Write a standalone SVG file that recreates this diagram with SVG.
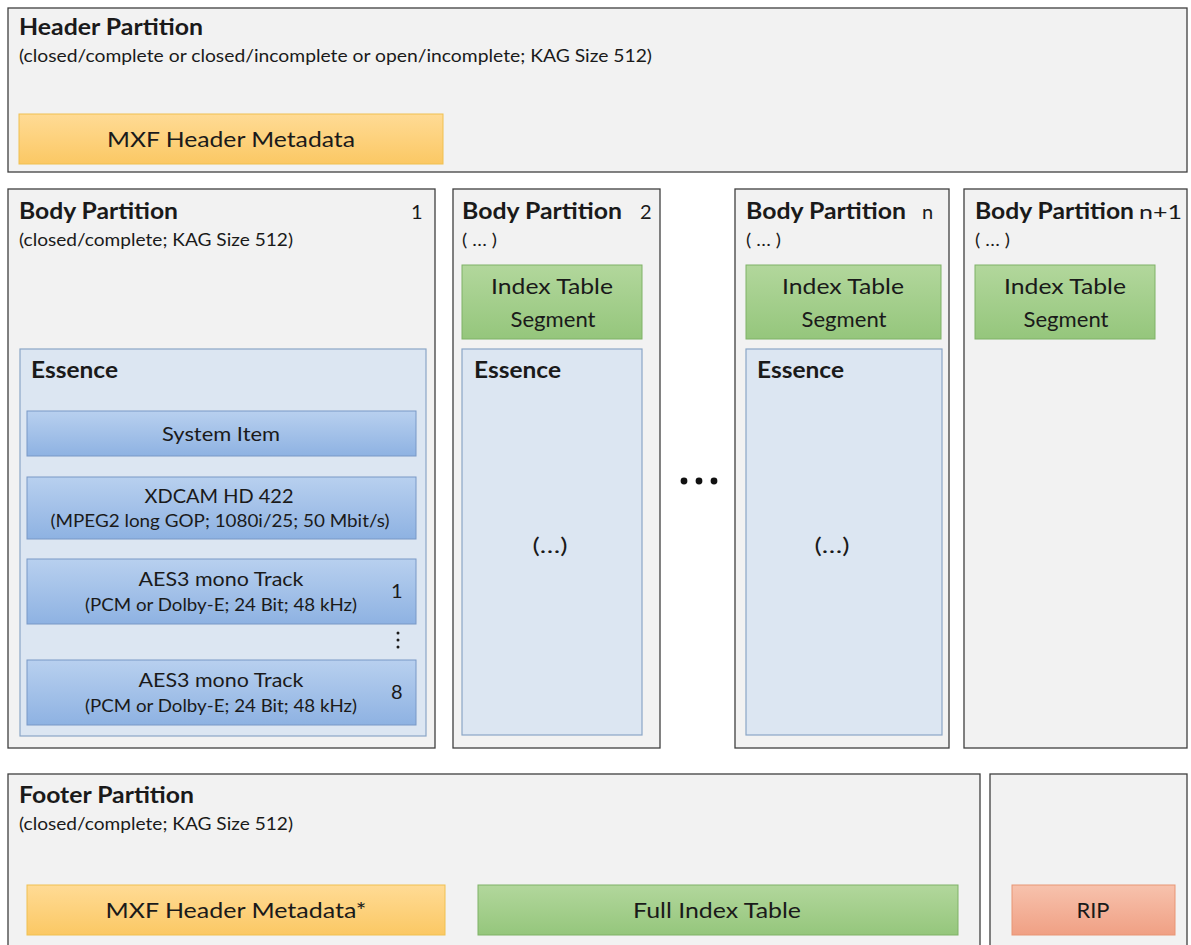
<svg xmlns="http://www.w3.org/2000/svg" width="1191" height="945" viewBox="0 0 1191 945">
<defs>
<linearGradient id="gOrange" x1="0" y1="0" x2="0" y2="1"><stop offset="0" stop-color="#ffdb95"/><stop offset="1" stop-color="#fbc864"/></linearGradient>
<linearGradient id="gGreen" x1="0" y1="0" x2="0" y2="1"><stop offset="0" stop-color="#b2d79c"/><stop offset="1" stop-color="#95c67c"/></linearGradient>
<linearGradient id="gBlue" x1="0" y1="0" x2="0" y2="1"><stop offset="0" stop-color="#b8d0ef"/><stop offset="1" stop-color="#8eb2e2"/></linearGradient>
<linearGradient id="gRed" x1="0" y1="0" x2="0" y2="1"><stop offset="0" stop-color="#f7c2ad"/><stop offset="1" stop-color="#f0a084"/></linearGradient>
</defs>
<style>
text{font-family:Lato,"Liberation Sans",Arial,sans-serif;fill:#1a1a1a}
.part{fill:#f2f2f2;stroke:#3f3f3f;stroke-width:1.3}
.ess{fill:#dce6f2;stroke:#8aa6c6;stroke-width:1.2}
.orange{fill:url(#gOrange);stroke:#f0c050;stroke-width:1}
.green{fill:url(#gGreen);stroke:#7fb266;stroke-width:1}
.blue{fill:url(#gBlue);stroke:#7898c6;stroke-width:1}
.red{fill:url(#gRed);stroke:#e89574;stroke-width:1}
.title{font-weight:bold;font-size:22px}
.sub{font-size:17px}
.lbl{font-size:22px;text-anchor:middle}
.sm{font-size:19px;text-anchor:middle}
.xs{font-size:17px;text-anchor:middle}
.num{font-size:20px}
</style>
<rect width="1191" height="945" fill="#ffffff"/>

<g id="header-partition">
<rect class="part" x="8" y="8" width="1179" height="164"/>
<text class="title" x="19" y="35" textLength="184" lengthAdjust="spacingAndGlyphs">Header Partition</text>
<text class="sub" x="19" y="62" textLength="633" lengthAdjust="spacingAndGlyphs">(closed/complete or closed/incomplete or open/incomplete; KAG Size 512)</text>
<g id="header-metadata">
<rect class="orange" x="19" y="114" width="424" height="50"/>
<text class="lbl" x="231" y="147" textLength="248" lengthAdjust="spacingAndGlyphs">MXF Header Metadata</text>
</g>
</g>

<g id="body-partition-1">
<rect class="part" x="8" y="189" width="427" height="559"/>
<text class="title" x="19" y="219" textLength="159" lengthAdjust="spacingAndGlyphs">Body Partition</text>
<text class="num" x="411" y="219">1</text>
<text class="sub" x="19" y="246" textLength="274" lengthAdjust="spacingAndGlyphs">(closed/complete; KAG Size 512)</text>
<g id="essence-1">
<rect class="ess" x="20" y="349" width="406" height="387"/>
<text class="title" x="31" y="378" textLength="87" lengthAdjust="spacingAndGlyphs">Essence</text>
<g id="system-item">
<rect class="blue" x="27" y="411" width="389" height="45"/>
<text class="sm" x="221" y="441" textLength="118" lengthAdjust="spacingAndGlyphs">System Item</text>
</g>
<g id="xdcam">
<rect class="blue" x="27" y="477" width="389" height="62"/>
<text class="sm" x="219" y="503" textLength="149" lengthAdjust="spacingAndGlyphs">XDCAM HD 422</text>
<text class="xs" x="220" y="527" textLength="339" lengthAdjust="spacingAndGlyphs">(MPEG2 long GOP; 1080i/25; 50 Mbit/s)</text>
</g>
<g id="aes-1">
<rect class="blue" x="27" y="559" width="389" height="65"/>
<text class="sm" x="221" y="586" textLength="165" lengthAdjust="spacingAndGlyphs">AES3 mono Track</text>
<text class="xs" x="221" y="611" textLength="272" lengthAdjust="spacingAndGlyphs">(PCM or Dolby-E; 24 Bit; 48 kHz)</text>
<text class="num" x="391" y="598">1</text>
</g>
<g id="aes-dots" fill="#1a1a1a">
<circle cx="398" cy="633" r="1.5"/><circle cx="398" cy="640" r="1.5"/><circle cx="398" cy="647" r="1.5"/>
</g>
<g id="aes-8">
<rect class="blue" x="27" y="660" width="389" height="65"/>
<text class="sm" x="221" y="687" textLength="165" lengthAdjust="spacingAndGlyphs">AES3 mono Track</text>
<text class="xs" x="221" y="712" textLength="272" lengthAdjust="spacingAndGlyphs">(PCM or Dolby-E; 24 Bit; 48 kHz)</text>
<text class="num" x="391" y="699">8</text>
</g>
</g>
</g>

<g id="body-partition-2">
<rect class="part" x="453" y="189" width="207" height="559"/>
<text class="title" x="462" y="219" textLength="160" lengthAdjust="spacingAndGlyphs">Body Partition</text>
<text class="num" x="640" y="219">2</text>
<text class="sub" x="462" y="246" textLength="35" lengthAdjust="spacingAndGlyphs">( … )</text>
<g id="its-2">
<rect class="green" x="462" y="265" width="180" height="74"/>
<text class="lbl" x="552" y="294" textLength="122" lengthAdjust="spacingAndGlyphs">Index Table</text>
<text class="lbl" x="553" y="327" textLength="85" lengthAdjust="spacingAndGlyphs">Segment</text>
</g>
<g id="essence-2">
<rect class="ess" x="462" y="349" width="180" height="386"/>
<text class="title" x="474" y="378" textLength="87" lengthAdjust="spacingAndGlyphs">Essence</text>
<text class="lbl" x="550" y="553" textLength="35" lengthAdjust="spacingAndGlyphs">(…)</text>
</g>
</g>

<g id="ellipsis" fill="#111111">
<circle cx="684" cy="481" r="3.4"/><circle cx="699" cy="481" r="3.4"/><circle cx="714" cy="481" r="3.4"/>
</g>

<g id="body-partition-n">
<rect class="part" x="735" y="189" width="214" height="559"/>
<text class="title" x="746" y="219" textLength="160" lengthAdjust="spacingAndGlyphs">Body Partition</text>
<text class="num" x="922" y="219">n</text>
<text class="sub" x="746" y="246" textLength="35" lengthAdjust="spacingAndGlyphs">( … )</text>
<g id="its-n">
<rect class="green" x="746" y="265" width="195" height="74"/>
<text class="lbl" x="843" y="294" textLength="122" lengthAdjust="spacingAndGlyphs">Index Table</text>
<text class="lbl" x="844" y="327" textLength="85" lengthAdjust="spacingAndGlyphs">Segment</text>
</g>
<g id="essence-n">
<rect class="ess" x="746" y="349" width="196" height="386"/>
<text class="title" x="757" y="378" textLength="87" lengthAdjust="spacingAndGlyphs">Essence</text>
<text class="lbl" x="832" y="553" textLength="35" lengthAdjust="spacingAndGlyphs">(…)</text>
</g>
</g>

<g id="body-partition-n1">
<rect class="part" x="964" y="189" width="223" height="559"/>
<text class="title" x="975" y="219" textLength="159" lengthAdjust="spacingAndGlyphs">Body Partition</text>
<text class="num" x="1139" y="219" textLength="43" lengthAdjust="spacingAndGlyphs">n+1</text>
<text class="sub" x="975" y="246" textLength="35" lengthAdjust="spacingAndGlyphs">( … )</text>
<g id="its-n1">
<rect class="green" x="975" y="265" width="180" height="74"/>
<text class="lbl" x="1065" y="294" textLength="122" lengthAdjust="spacingAndGlyphs">Index Table</text>
<text class="lbl" x="1066" y="327" textLength="85" lengthAdjust="spacingAndGlyphs">Segment</text>
</g>
</g>

<g id="footer-partition">
<rect class="part" x="8" y="774" width="972" height="180"/>
<text class="title" x="19" y="803" textLength="175" lengthAdjust="spacingAndGlyphs">Footer Partition</text>
<text class="sub" x="19" y="830" textLength="274" lengthAdjust="spacingAndGlyphs">(closed/complete; KAG Size 512)</text>
<g id="footer-metadata">
<rect class="orange" x="27" y="885" width="418" height="50"/>
<text class="lbl" x="236" y="918" textLength="261" lengthAdjust="spacingAndGlyphs">MXF Header Metadata*</text>
</g>
<g id="full-index">
<rect class="green" x="478" y="885" width="480" height="50"/>
<text class="lbl" x="717" y="918" textLength="168" lengthAdjust="spacingAndGlyphs">Full Index Table</text>
</g>
</g>

<g id="rip-partition">
<rect class="part" x="990" y="774" width="197" height="180"/>
<g id="rip">
<rect class="red" x="1012" y="885" width="163" height="50"/>
<text class="lbl" x="1093" y="918" textLength="33" lengthAdjust="spacingAndGlyphs">RIP</text>
</g>
</g>

<g id="connectors"></g>
</svg>
